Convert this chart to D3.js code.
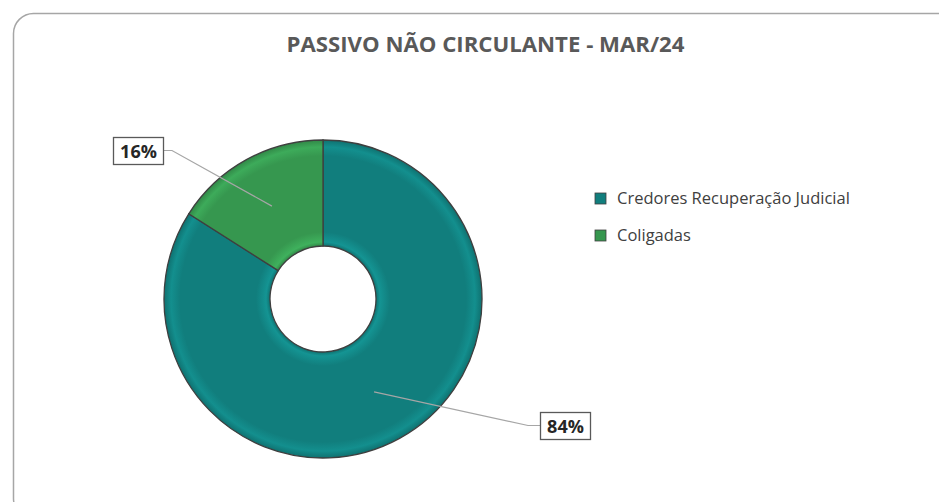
<!DOCTYPE html>
<html>
<head>
<meta charset="utf-8">
<script src="https://cdn.jsdelivr.net/npm/d3@7"></script>
<style>
  body { margin: 0; background: #fff; }
  svg { display: block; }
</style>
</head>
<body>
<div id="chart"></div>
<script>
// dados do grafico
var categories = ["Credores Recuperação Judicial", "Coligadas"];
var values = [84, 16];
var colors = ["#117e7d", "#36974f"];
var title = "PASSIVO NÃO CIRCULANTE - MAR/24";

var svgWidth = 939, svgHeight = 502;
var svg = d3.select("#chart").append("svg")
    .attr("width", svgWidth)
    .attr("height", svgHeight);

// moldura arredondada (sai pela direita e por baixo)
svg.append("rect")
    .attr("x", 13.5).attr("y", 13.5)
    .attr("width", 960).attr("height", 505)
    .attr("rx", 20).attr("ry", 20)
    .attr("fill", "#fff")
    .attr("stroke", "#a6a6a6")
    .attr("stroke-width", 1.5);

svg.append("text")
    .attr("x", 485.5).attr("y", 52)
    .attr("text-anchor", "middle")
    .attr("font-family", "'Open Sans', sans-serif")
    .attr("font-weight", "bold")
    .attr("font-size", 22.2)
    .attr("fill", "#595959")
    .text(title);

var cx = 323, cy = 299, rOut = 159, rIn = 53;
var total = d3.sum(values);

// gradientes para o efeito de bisel (centro no (0,0) do grupo)
var defs = svg.append("defs");
colors.forEach(function(c, i) {
    var g = defs.append("radialGradient")
        .attr("id", "grad" + i)
        .attr("gradientUnits", "userSpaceOnUse")
        .attr("cx", 0).attr("cy", 0).attr("r", rOut);
    var base = d3.color(c);
    g.append("stop").attr("offset", rIn / rOut).attr("stop-color", base.darker(0.3).formatHex());
    g.append("stop").attr("offset", (rIn + 4) / rOut).attr("stop-color", base.brighter(0.45).formatHex());
    g.append("stop").attr("offset", (rIn + 14) / rOut).attr("stop-color", base.formatHex());
    g.append("stop").attr("offset", (rOut - 16) / rOut).attr("stop-color", base.formatHex());
    g.append("stop").attr("offset", (rOut - 7) / rOut).attr("stop-color", base.brighter(0.35).formatHex());
    g.append("stop").attr("offset", 1).attr("stop-color", base.darker(0.3).formatHex());
});

var pie = d3.pie().sort(null).value(function(d) { return d; });
var arc = d3.arc().innerRadius(rIn).outerRadius(rOut);
var arcs = pie(values);

var g = svg.append("g").attr("transform", "translate(" + cx + "," + cy + ")");
g.selectAll("path")
    .data(arcs)
    .enter().append("path")
    .attr("d", arc)
    .attr("fill", function(d, i) { return "url(#grad" + i + ")"; })
    .attr("stroke", "#3f3f3f")
    .attr("stroke-width", 1.3);

// rotulos com linhas de chamada
var labelBoxes = [
    { x: 540, y: 412, lx: 528 },   // 84%
    { x: 113, y: 137, lx: 172 }    // 16%
];
var bw = 50, bh = 27;

arcs.forEach(function(d, i) {
    var c = arc.centroid(d);
    var b = labelBoxes[i];
    var px = cx + c[0], py = cy + c[1];
    var ey = b.y + bh / 2;
    var edge = i == 0 ? b.x : b.x + bw;
    svg.append("polyline")
        .attr("points", [[px, py], [b.lx, ey], [edge, ey]].join(" "))
        .attr("fill", "none")
        .attr("stroke", "#a6a6a6")
        .attr("stroke-width", 1.2);
    svg.append("rect")
        .attr("x", b.x + 0.5).attr("y", b.y + 0.5)
        .attr("width", bw).attr("height", bh)
        .attr("fill", "#fff")
        .attr("stroke", "#595959")
        .attr("stroke-width", 1.3);
    svg.append("text")
        .attr("x", b.x + bw / 2 + 0.5).attr("y", b.y + bh / 2 + 7)
        .attr("text-anchor", "middle")
        .attr("font-family", "'Open Sans', sans-serif")
        .attr("font-weight", "bold")
        .attr("font-size", 18)
        .attr("fill", "#262626")
        .text(Math.round(d.data / total * 100) + "%");
});

// legenda
var legend = svg.selectAll(".legend")
    .data(categories)
    .enter().append("g")
    .attr("class", "legend")
    .attr("transform", function(d, i) { return "translate(595," + (193 + i * 37) + ")"; });

legend.append("rect")
    .attr("width", 11).attr("height", 11)
    .attr("fill", function(d, i) { return colors[i]; })
    .attr("stroke", "#404040")
    .attr("stroke-width", 0.8);

legend.append("text")
    .attr("x", 22).attr("y", 11)
    .attr("font-family", "'Open Sans', sans-serif")
    .attr("font-size", 16.5)
    .attr("fill", "#404040")
    .text(function(d) { return d; });
</script>
</body>
</html>
